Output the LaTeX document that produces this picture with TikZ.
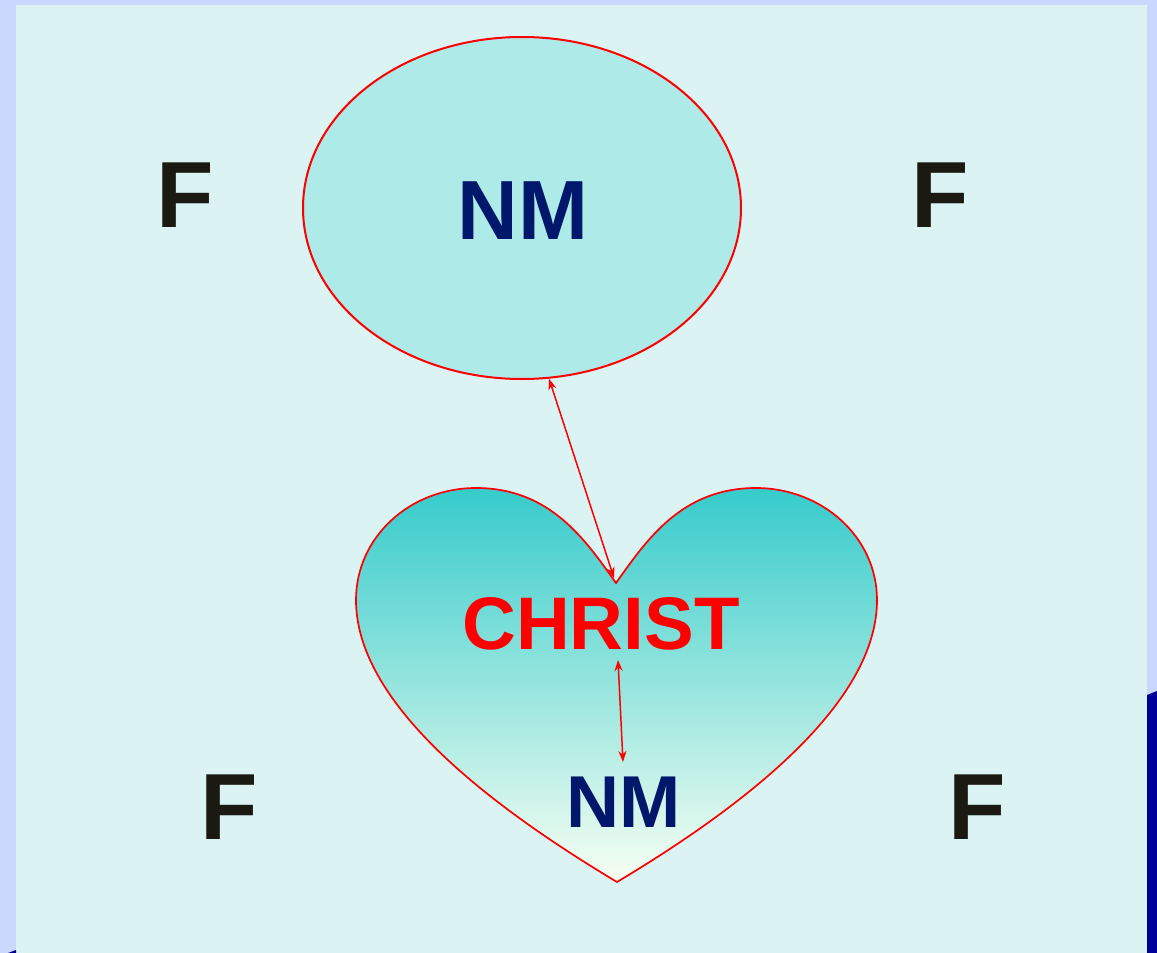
\documentclass[tikz,border=0pt]{standalone}
\usepackage{fontspec}
\setmainfont{Liberation Sans}
\usetikzlibrary{arrows.meta}
\usetikzlibrary{shapes.geometric}

\definecolor{frame}{HTML}{C8D8FF}
\definecolor{panel}{HTML}{DBF3F3}
\definecolor{deepblue}{HTML}{000099}
\definecolor{lagoon}{HTML}{ADEAE8}
\definecolor{heartTop}{HTML}{36CBCB}
\definecolor{heartBot}{HTML}{F7FFF2}
\definecolor{navy}{HTML}{00176B}
\definecolor{ink}{HTML}{1A1A12}

\begin{document}
\begin{tikzpicture}[x=1pt, y=-1pt,
        bigF/.style={anchor=base, inner sep=0pt, text=ink, font=\fontsize{94}{98}\selectfont\bfseries},
        word/.style={anchor=base, inner sep=0pt, font=\bfseries},
        link/.style={red, line width=1.5pt, {Stealth[length=11pt,width=8pt]}-{Stealth[length=11pt,width=8pt]}}]
        \useasboundingbox (0,0) rectangle (1157,953);
        \fill[frame] (0,0) rectangle (1157,953);
        \fill[panel] (16,5) rectangle (1147,953);
        \fill[deepblue] (1147,695) -- (1157,691) -- (1157,953) -- (1147,953) -- cycle;
        \fill[deepblue] (8,953) -- (16,950) -- (16,953) -- cycle;
        % top ellipse
        \node[ellipse, draw=red, line width=2pt, fill=lagoon, minimum width=438pt, minimum height=342pt, inner sep=0pt] (cloud) at (522,208) {};
        \node[word, text=navy, font=\fontsize{84}{88}\selectfont\bfseries] (nmtop) at (523,239) {NM};
        % heart
        \coordinate (dip) at (616,583);
        \shadedraw[top color=heartTop, bottom color=heartBot, draw=red, line width=1.7pt]
            (dip) .. controls (586,541) and (551,488) .. (476,488)
            .. controls (410,488) and (356,537) .. (356,600)
            .. controls (356,700) and (480,800) .. (617,882)
            .. controls (754,800) and (877,700) .. (877,600)
            .. controls (877,537) and (822,488) .. (756,488)
            .. controls (681,488) and (646,541) .. (dip) -- cycle;
        \node[word, text=red, font=\fontsize{74.5}{78}\selectfont\bfseries] (christ) at (601,649) {CHRIST};
        \node[word, text=navy, font=\fontsize{73.5}{76}\selectfont\bfseries] (nmlow) at (624,827) {NM};
        % letters round the picture
        \node[bigF] (f1) at (185,227) {F};
        \node[bigF] (f2) at (940,227) {F};
        \node[bigF] (f3) at (229.5,839) {F};
        \node[bigF] (f4) at (977,839) {F};
        % arrows
        \coordinate (tip) at (614,578);
        \coordinate (c1) at (618,660);
        \coordinate (c2) at (623,762);
        \draw[link] (cloud.-81) -- (tip);
        \draw[link] (c1) -- (c2);
\end{tikzpicture}
\end{document}
